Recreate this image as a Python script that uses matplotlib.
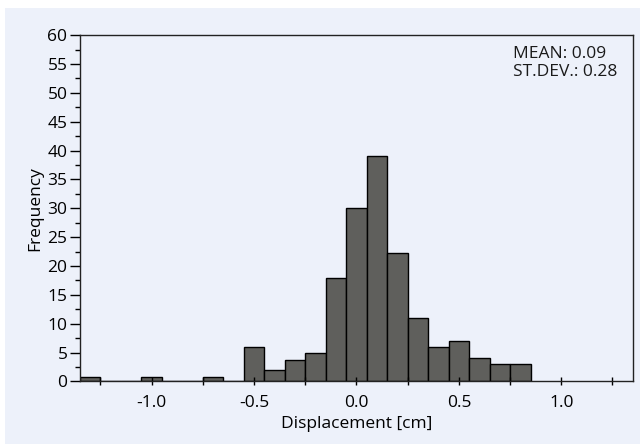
import numpy as np
import matplotlib.pyplot as plt
from matplotlib.patches import Rectangle
from matplotlib.ticker import MultipleLocator

# histogram of displacement, bins 0.1 cm wide
bin_left = [-1.35, -1.25, -1.15, -1.05, -0.95, -0.85, -0.75, -0.65, -0.55, -0.45, -0.35,
            -0.25, -0.15, -0.05, 0.05, 0.15, 0.25, 0.35, 0.45, 0.55, 0.65, 0.75]
counts = [0.8, 0, 0, 0.8, 0, 0, 0.8, 0, 6, 2, 3.8,
          5, 18, 30, 39, 22.2, 11, 6, 7, 4, 3, 3]
mean_disp = 0.09
std_disp = 0.28

bg = '#edf1fa'
plt.rcParams['font.family'] = ['Open Sans', 'DejaVu Sans']
plt.rcParams['font.size'] = 12.5
plt.rcParams['text.color'] = '#1a1a1a'

fig = plt.figure(figsize=(6.4, 4.44), dpi=100, facecolor='white')
fig.patches.append(Rectangle((5 / 640, 0), 1, 1 - 8 / 444, transform=fig.transFigure,
                             facecolor=bg, edgecolor='none', zorder=-10))
ax = fig.add_axes([0.125, 0.1408, 0.864, 0.780])
ax.set_facecolor(bg)

ax.bar(bin_left, counts, width=0.1, align='edge', color='#5f5f5c',
       edgecolor='black', linewidth=1.0)

ax.set_xlim(-1.35, 1.35)
ax.set_ylim(0, 60)
ax.xaxis.set_major_locator(MultipleLocator(0.5))
ax.xaxis.set_minor_locator(MultipleLocator(0.25))
ax.yaxis.set_major_locator(MultipleLocator(5))
ax.yaxis.set_minor_locator(MultipleLocator(2.5))
ax.set_xticks([-1.0, -0.5, 0.0, 0.5, 1.0])
ax.set_xticklabels(['-1.0', '-0.5', '0.0', '0.5', '1.0'])
ax.tick_params(axis='x', which='both', direction='inout', length=6, width=1, pad=7)
ax.tick_params(axis='y', which='major', direction='out', length=7, width=1, pad=2)
ax.tick_params(axis='y', which='minor', direction='out', length=3.5, width=1)

for s in ax.spines.values():
    s.set_linewidth(1.0)
    s.set_color('#222222')

ax.set_xlabel('Displacement [cm]', labelpad=3)
ax.set_ylabel('Frequency', labelpad=3)

ax.text(0.783, 0.97, f'MEAN: {mean_disp:.2f}\nST.DEV.: {std_disp:.2f}',
        transform=ax.transAxes, ha='left', va='top', linespacing=1.2)

plt.savefig('out.png', dpi=100, facecolor=fig.get_facecolor())
